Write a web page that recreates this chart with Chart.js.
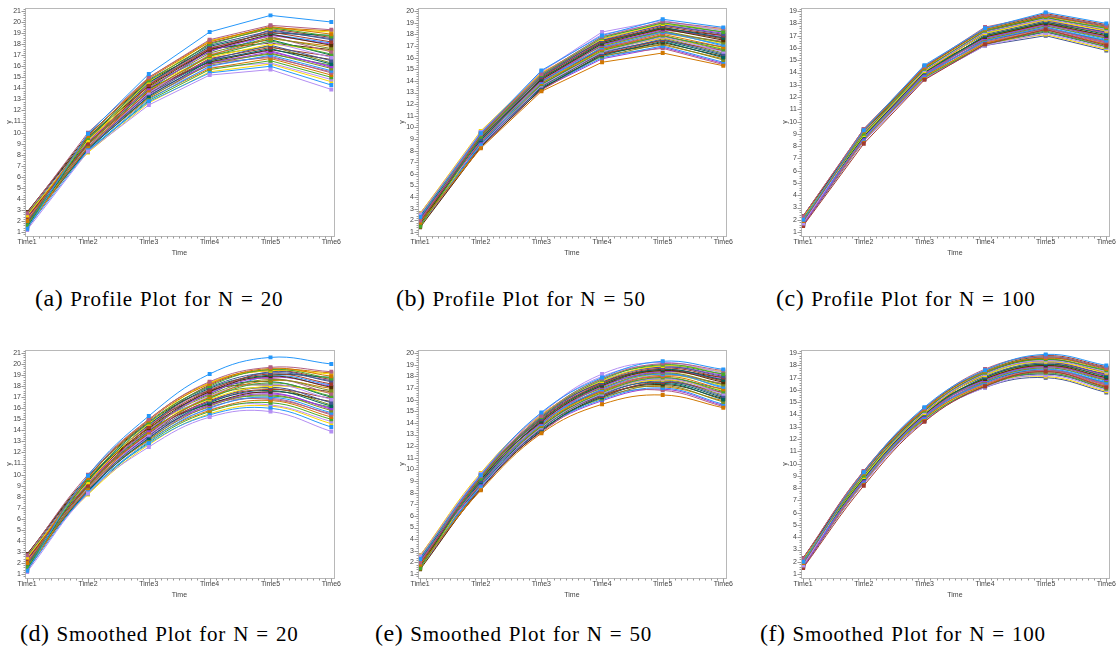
<!DOCTYPE html>
<html>
<head>
<meta charset="utf-8">
<script src="https://cdn.jsdelivr.net/npm/chart.js@4/dist/chart.umd.min.js"></script>
<style>
  body { margin: 0; width: 1116px; height: 659px; overflow: hidden; background: #fff; position: relative; }
  canvas { position: absolute; }
  .cap { position: absolute; font-family: "Liberation Serif", "DejaVu Serif", serif; font-size: 21px; letter-spacing: 0.8px; word-spacing: 1px; white-space: nowrap; color: #000; line-height: 1; }
  .cap span { font-size: 24px; letter-spacing: 0.5px; }
</style>
</head>
<body>
<script>
// Time points on the x axis
const timeLabels = ['Time1', 'Time2', 'Time3', 'Time4', 'Time5', 'Time6'];

// one row per subject, y at Time1..Time6
const subjectsN20 = [
  [1.3, 9.9, 15.3, 19.1, 20.6, 20.0],
  [2.7, 10.0, 15.0, 18.4, 19.7, 19.3],
  [2.0, 9.7, 14.9, 18.2, 19.6, 18.9],
  [1.6, 9.5, 14.7, 18.0, 19.5, 18.7],
  [1.2, 8.3, 12.5, 15.2, 15.7, 13.9],
  [2.5, 9.3, 14.6, 18.3, 19.4, 19.1],
  [1.8, 9.8, 14.8, 17.9, 19.2, 18.5],
  [2.3, 9.0, 14.3, 17.6, 19.1, 18.2],
  [1.5, 9.4, 14.5, 17.8, 19.0, 18.8],
  [2.8, 9.6, 14.2, 17.5, 18.9, 17.9],
  [2.1, 9.2, 14.0, 17.4, 18.8, 18.0],
  [1.9, 8.9, 14.1, 17.2, 18.6, 17.6],
  [1.4, 8.4, 12.8, 15.4, 16.0, 14.3],
  [2.4, 9.5, 14.4, 17.7, 18.7, 17.3],
  [1.7, 8.7, 13.8, 17.0, 18.5, 17.8],
  [2.6, 9.1, 13.9, 16.9, 18.3, 17.1],
  [2.2, 8.8, 13.6, 17.1, 18.2, 16.8],
  [1.4, 9.3, 14.2, 16.8, 18.0, 17.4],
  [2.0, 8.6, 13.5, 16.6, 17.9, 16.5],
  [2.5, 9.0, 13.7, 16.7, 17.7, 16.9],
  [1.8, 8.5, 13.3, 16.5, 17.6, 16.2],
  [2.3, 9.4, 14.0, 16.4, 17.5, 16.6],
  [1.6, 8.8, 13.4, 16.3, 17.3, 16.0],
  [2.7, 8.9, 13.2, 16.2, 17.2, 15.8],
  [1.9, 8.4, 13.0, 16.0, 17.0, 15.6],
  [2.1, 9.1, 13.6, 16.1, 16.9, 15.4],
  [1.5, 8.6, 13.1, 15.8, 16.7, 15.2],
  [2.4, 8.3, 12.9, 15.7, 16.5, 15.0],
  [1.7, 8.7, 13.3, 15.9, 16.3, 14.8],
  [2.2, 8.2, 12.7, 15.5, 16.2, 14.6],
  [2.6, 9.6, 14.6, 17.3, 19.3, 18.4],
  [1.3, 9.2, 14.3, 18.1, 19.4, 18.6],
  [2.0, 9.0, 13.9, 17.5, 18.4, 17.0],
  [2.8, 9.8, 14.7, 17.6, 18.1, 17.5],
  [1.8, 8.5, 13.7, 16.6, 17.4, 15.9],
  [2.3, 8.9, 13.5, 17.0, 17.8, 16.3],
  [1.6, 9.4, 14.4, 16.9, 18.9, 18.1],
  [2.5, 8.6, 13.2, 16.3, 16.8, 15.5],
  [1.9, 9.7, 15.0, 18.3, 19.5, 19.2],
  [2.1, 8.4, 13.8, 16.4, 17.1, 16.1]
];

const subjectsN50 = [
  [2.3, 9.5, 14.9, 17.9, 19.3, 18.6],
  [2.0, 9.4, 14.6, 17.8, 19.1, 18.5],
  [1.8, 8.2, 13.1, 15.6, 16.4, 15.3],
  [1.5, 9.2, 14.5, 17.7, 19.0, 18.2],
  [2.5, 9.6, 14.8, 18.2, 19.2, 18.3],
  [2.6, 9.7, 14.7, 17.6, 18.9, 18.4],
  [2.2, 9.0, 14.4, 17.5, 18.8, 18.0],
  [1.9, 9.3, 14.3, 17.4, 18.7, 17.9],
  [2.4, 8.9, 14.2, 17.3, 18.6, 17.7],
  [1.7, 9.1, 14.1, 17.2, 18.5, 17.5],
  [2.1, 8.8, 14.0, 17.1, 18.4, 17.8],
  [2.5, 9.4, 14.3, 17.0, 18.3, 17.3],
  [1.6, 8.6, 13.9, 16.9, 18.2, 17.1],
  [2.0, 9.2, 14.2, 16.8, 18.1, 17.4],
  [2.3, 8.7, 13.8, 16.7, 18.0, 16.9],
  [1.8, 9.0, 13.7, 16.6, 17.9, 16.7],
  [2.4, 8.5, 13.6, 16.5, 17.8, 16.5],
  [1.5, 8.9, 13.9, 16.6, 17.7, 16.8],
  [2.2, 8.4, 13.5, 16.4, 17.6, 16.3],
  [1.9, 9.1, 14.0, 16.3, 17.5, 16.6],
  [2.1, 8.6, 13.4, 16.2, 17.4, 16.0],
  [1.4, 8.3, 13.3, 16.3, 17.3, 16.1],
  [2.6, 9.5, 14.5, 17.6, 18.8, 18.1],
  [1.7, 8.8, 13.6, 16.1, 17.2, 15.8],
  [2.0, 8.5, 13.4, 16.0, 17.0, 15.6],
  [2.3, 8.7, 13.2, 16.2, 16.8, 15.4],
  [1.6, 8.4, 13.5, 16.4, 17.1, 15.9],
  [2.2, 9.3, 14.6, 17.8, 18.9, 18.2],
  [1.8, 9.6, 14.8, 18.0, 19.0, 18.4],
  [2.4, 9.0, 14.1, 17.0, 18.1, 17.2],
  [1.9, 8.7, 13.8, 16.8, 17.8, 16.9],
  [2.5, 9.2, 14.4, 17.3, 18.6, 17.6],
  [1.7, 8.5, 13.7, 16.5, 17.5, 16.2],
  [2.1, 9.4, 14.5, 17.5, 18.5, 17.9],
  [1.5, 8.3, 13.3, 15.9, 16.9, 15.5],
  [2.0, 9.1, 14.0, 16.7, 17.7, 16.4],
  [2.6, 8.9, 13.9, 17.1, 18.3, 17.0],
  [1.8, 8.6, 13.6, 16.9, 17.9, 16.6],
  [2.3, 9.5, 14.7, 17.4, 18.4, 17.7],
  [1.6, 8.8, 14.2, 17.2, 18.2, 17.3]
];

const subjectsN100 = [
  [2.0, 9.3, 14.6, 17.6, 18.9, 18.0],
  [2.3, 9.4, 14.5, 17.7, 18.7, 17.8],
  [1.9, 9.2, 14.4, 17.5, 18.6, 17.7],
  [2.1, 9.0, 14.3, 17.4, 18.5, 17.6],
  [1.7, 9.1, 14.2, 17.3, 18.4, 17.5],
  [2.2, 8.9, 14.1, 17.2, 18.3, 17.4],
  [1.8, 9.3, 14.3, 17.1, 18.2, 17.3],
  [1.5, 8.2, 13.4, 16.3, 17.5, 16.2],
  [2.0, 8.8, 14.0, 17.0, 18.1, 17.1],
  [2.3, 9.2, 14.2, 16.9, 18.0, 17.0],
  [1.6, 8.7, 13.9, 16.8, 17.9, 16.9],
  [2.1, 9.1, 14.1, 16.7, 17.8, 16.8],
  [1.9, 8.6, 13.8, 16.6, 17.7, 16.6],
  [2.2, 9.0, 13.9, 16.5, 17.6, 16.5],
  [1.7, 8.5, 13.7, 16.4, 17.5, 16.3],
  [2.0, 8.9, 13.6, 16.3, 17.4, 16.1],
  [1.8, 8.4, 13.5, 16.2, 17.2, 16.0],
  [2.1, 8.7, 13.6, 16.4, 17.1, 15.9],
  [1.6, 8.6, 13.5, 16.2, 17.0, 15.8],
  [2.3, 9.4, 14.4, 17.6, 18.8, 17.9],
  [1.9, 9.2, 14.5, 17.5, 18.7, 17.8],
  [2.2, 8.8, 14.0, 17.3, 18.5, 17.4],
  [1.8, 9.0, 14.2, 17.4, 18.3, 17.2],
  [2.0, 8.7, 13.8, 17.0, 18.0, 16.8],
  [1.7, 8.9, 14.1, 16.8, 17.8, 16.7],
  [2.1, 8.6, 13.7, 16.7, 17.7, 16.4],
  [1.9, 8.8, 13.9, 16.9, 17.9, 17.0],
  [2.2, 9.1, 14.3, 17.2, 18.4, 17.6],
  [1.8, 8.5, 13.6, 16.5, 17.4, 16.2],
  [2.0, 9.3, 14.4, 17.1, 18.2, 17.5],
  [1.6, 8.4, 13.5, 16.3, 17.3, 16.1],
  [2.3, 9.0, 14.0, 17.0, 18.1, 17.3],
  [1.7, 8.7, 13.8, 16.6, 17.6, 16.6],
  [2.1, 9.2, 14.2, 17.4, 18.6, 17.8],
  [1.9, 8.6, 13.7, 16.4, 17.5, 16.4],
  [2.2, 8.9, 14.1, 16.8, 17.9, 16.9],
  [1.8, 9.1, 14.3, 17.3, 18.3, 17.7],
  [2.0, 8.8, 13.9, 16.6, 17.6, 16.5],
  [1.7, 9.0, 14.0, 16.9, 18.0, 17.2],
  [2.1, 8.5, 13.6, 16.5, 17.3, 16.3]
];

// SAS HTMLBlue group colours
const groupColors = ['#445694', '#A23A2E', '#01665E', '#543005', '#9D3CDB', '#7F8E1F',
                     '#2597FA', '#B26084', '#D17800', '#47A82A', '#B38EF3', '#F9DA04'];

const panels = [
  { rows: subjectsN20,  smooth: false, yMin: 0.65, yMax: 21.25, frameLeft: 25,  frameRight: 335,  top: 0,
    label: '(a)', caption: 'Profile Plot for N = 20',   capLeft: 35,  capTop: 286 },
  { rows: subjectsN50,  smooth: false, yMin: 0.66, yMax: 20.25, frameLeft: 418, frameRight: 727,  top: 0,
    label: '(b)', caption: 'Profile Plot for N = 50',   capLeft: 396, capTop: 286 },
  { rows: subjectsN100, smooth: false, yMin: 0.68, yMax: 19.24, frameLeft: 801, frameRight: 1110, top: 0,
    label: '(c)', caption: 'Profile Plot for N = 100',  capLeft: 776, capTop: 286 },
  { rows: subjectsN20,  smooth: true,  yMin: 0.65, yMax: 21.25, frameLeft: 25,  frameRight: 335,  top: 342,
    label: '(d)', caption: 'Smoothed Plot for N = 20',  capLeft: 20,  capTop: 621 },
  { rows: subjectsN50,  smooth: true,  yMin: 0.66, yMax: 20.25, frameLeft: 418, frameRight: 727,  top: 342,
    label: '(e)', caption: 'Smoothed Plot for N = 50',  capLeft: 375, capTop: 621 },
  { rows: subjectsN100, smooth: true,  yMin: 0.68, yMax: 19.24, frameLeft: 801, frameRight: 1110, top: 342,
    label: '(f)', caption: 'Smoothed Plot for N = 100', capLeft: 760, capTop: 621 }
];

const tickFont = { family: 'Liberation Sans', size: 7 };
const tickColor = '#444';

// grey box round the plot area plus major / minor tick marks
const framePlugin = {
  id: 'frame',
  afterDraw(chart) {
    const { ctx, chartArea: a, scales: { x, y } } = chart;
    ctx.save();
    ctx.strokeStyle = '#b8b8b8';
    ctx.lineWidth = 1;
    const l = Math.round(a.left) + 0.5, r = Math.round(a.right) + 0.5;
    const t = Math.round(a.top) + 0.5, b = Math.round(a.bottom) + 0.5;
    ctx.strokeRect(l, t, r - l, b - t);
    ctx.strokeStyle = '#999';
    ctx.beginPath();
    for (let k = Math.ceil(y.min * 5); k <= Math.floor(y.max * 5); k++) {
      const py = Math.round(y.getPixelForValue(k / 5)) + 0.5;
      const len = k % 5 === 0 ? 4 : 2;
      ctx.moveTo(l - len, py);
      ctx.lineTo(l, py);
    }
    for (let k = 10; k <= 60; k++) {
      const px = Math.round(x.getPixelForValue(k / 10)) + 0.5;
      const len = k % 10 === 0 ? 4 : 2;
      ctx.moveTo(px, b);
      ctx.lineTo(px, b + len);
    }
    ctx.stroke();
    ctx.restore();
  }
};

function drawPanel(p) {
  const canvas = document.createElement('canvas');
  const cLeft = p.frameLeft - 30;
  canvas.width = p.frameRight - cLeft + 8;
  canvas.height = 262;
  canvas.style.left = cLeft + 'px';
  canvas.style.top = p.top + 'px';
  document.body.appendChild(canvas);

  const datasets = p.rows.map((row, i) => {
    const c = groupColors[(i + 6) % groupColors.length];
    return {
      data: row.map((v, j) => ({ x: j + 1, y: v })),
      borderColor: c,
      backgroundColor: c,
      borderWidth: 1,
      pointStyle: 'rect',
      pointRadius: 2.8,
      pointBorderWidth: 0,
      tension: p.smooth ? 0.4 : 0
    };
  });

  // integer tick values inside the axis range
  const yTickValues = [];
  for (let v = Math.ceil(p.yMin); v <= Math.floor(p.yMax); v++) yTickValues.push(v);

  new Chart(canvas, {
    type: 'line',
    data: { datasets },
    options: {
      responsive: false,
      animation: false,
      devicePixelRatio: 1,
      layout: { padding: { top: 3, right: 8, left: 0, bottom: 0 } },
      plugins: { legend: { display: false }, tooltip: { enabled: false } },
      scales: {
        x: {
          type: 'linear', min: 0.965, max: 6.04,
          grid: { display: false, drawTicks: false }, border: { display: false },
          afterBuildTicks: s => { s.ticks = timeLabels.map((_, j) => ({ value: j + 1 })); },
          afterFit: s => { s.height = 26; },
          ticks: { callback: v => timeLabels[v - 1], font: tickFont, color: tickColor, padding: 2, maxRotation: 0, autoSkip: false },
          title: { display: true, text: 'Time', font: tickFont, color: tickColor, padding: { top: 0, bottom: 5 } }
        },
        y: {
          min: p.yMin, max: p.yMax,
          grid: { display: false, drawTicks: false }, border: { display: false },
          afterBuildTicks: s => { s.ticks = yTickValues.map(v => ({ value: v })); },
          afterFit: s => { s.width = 30; },
          ticks: { font: tickFont, color: tickColor, padding: 4, autoSkip: false },
          title: { display: true, text: 'y', font: tickFont, color: tickColor, padding: { top: 10, bottom: 0 } }
        }
      }
    },
    plugins: [framePlugin]
  });

  const cap = document.createElement('div');
  cap.className = 'cap';
  cap.style.left = p.capLeft + 'px';
  cap.style.top = p.capTop + 'px';
  cap.innerHTML = '<span>' + p.label + '</span> ' + p.caption;
  document.body.appendChild(cap);
}

panels.forEach(drawPanel);
</script>
</body>
</html>
